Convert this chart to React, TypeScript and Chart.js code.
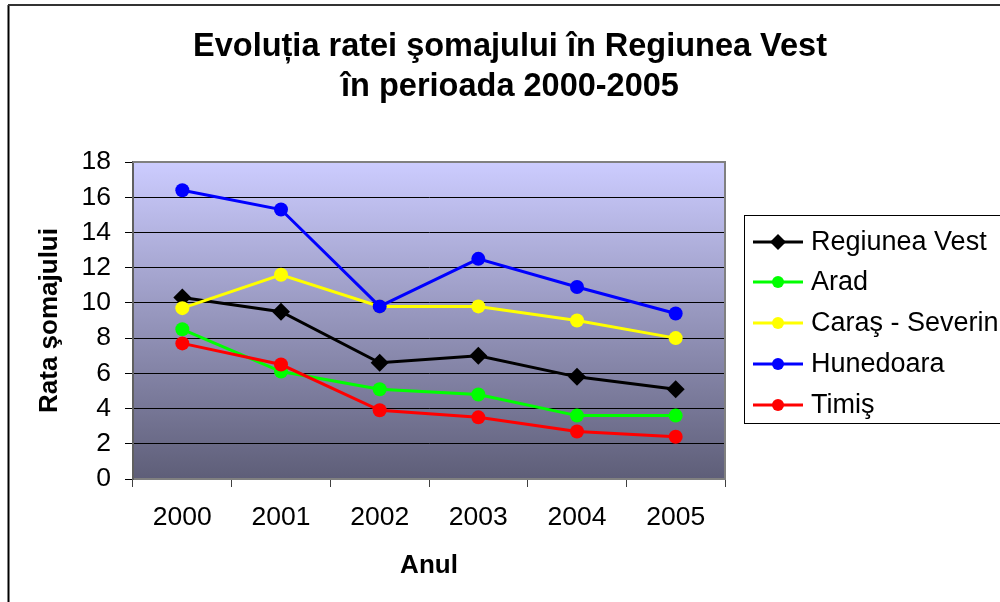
import React, { useEffect, useRef } from "react";
import { Chart, registerables } from "chart.js";

Chart.register(...registerables);

const years = ["2000", "2001", "2002", "2003", "2004", "2005"];
const regiuneaVest = [10.3, 9.5, 6.6, 7.0, 5.8, 5.1];
const arad = [8.5, 6.1, 5.1, 4.8, 3.6, 3.6];
const carasSeverin = [9.7, 11.6, 9.8, 9.8, 9.0, 8.0];
const hunedoara = [16.4, 15.3, 9.8, 12.5, 10.9, 9.4];
const timis = [7.7, 6.5, 3.9, 3.5, 2.7, 2.4];

const seriesNames = ["Regiunea Vest", "Arad", "Caraş - Severin", "Hunedoara", "Timiş"];
const seriesColors = ["#000000", "#00FF00", "#FFFF00", "#0000FF", "#FF0000"];
const seriesData = [regiuneaVest, arad, carasSeverin, hunedoara, timis];
const seriesMarkers = ["rectRot", "circle", "circle", "circle", "circle"];

const titleLines = ["Evoluția ratei şomajului în Regiunea Vest", "în perioada 2000-2005"];
const yTitle = "Rata şomajului";
const xTitle = "Anul";

const FONT = "'Liberation Sans', Arial, Helvetica, sans-serif";

const decorPlugin = {
  id: "decor",
  beforeDraw(chart: any) {
    const { ctx, chartArea } = chart;
    ctx.save();
    ctx.fillStyle = "#ffffff";
    ctx.fillRect(0, 0, chart.width, chart.height);
    // outer frame
    ctx.strokeStyle = "#000000";
    ctx.lineWidth = 2;
    ctx.beginPath();
    ctx.moveTo(8.5, chart.height + 2);
    ctx.lineTo(8.5, 5);
    ctx.stroke();
    ctx.strokeStyle = "#333333";
    ctx.beginPath();
    ctx.moveTo(8, 5);
    ctx.lineTo(chart.width + 2, 5);
    ctx.stroke();
    // plot gradient
    const g = ctx.createLinearGradient(0, chartArea.top, 0, chartArea.bottom);
    g.addColorStop(0, "#CCCCFF");
    g.addColorStop(1, "#5E5E78");
    ctx.fillStyle = g;
    ctx.fillRect(chartArea.left, chartArea.top, chartArea.right - chartArea.left, chartArea.bottom - chartArea.top);
    // title
    ctx.fillStyle = "#000000";
    ctx.font = `bold 32.5px ${FONT}`;
    ctx.textAlign = "center";
    ctx.textBaseline = "middle";
    ctx.fillText(titleLines[0], 510, 47);
    ctx.fillText(titleLines[1], 510, 87);
    ctx.restore();
  },
  beforeDatasetsDraw(chart: any) {
    const { ctx, chartArea } = chart;
    ctx.save();
    ctx.strokeStyle = "#808080";
    ctx.lineWidth = 2;
    ctx.beginPath();
    ctx.moveTo(chartArea.left, chartArea.top);
    ctx.lineTo(chartArea.right, chartArea.top);
    ctx.lineTo(chartArea.right, chartArea.bottom);
    ctx.stroke();
    ctx.restore();
  },
  afterDraw(chart: any) {
    const { ctx } = chart;
    ctx.save();
    // legend box
    const left = 744.5;
    const top = 215.5;
    const bottom = 423.5;
    ctx.fillStyle = "#ffffff";
    ctx.fillRect(left, top, chart.width - left + 5, bottom - top);
    ctx.strokeStyle = "#000000";
    ctx.lineWidth = 1;
    ctx.strokeRect(left, top, chart.width - left + 10, bottom - top);
    const ys = [242, 282, 323, 364, 405];
    chart.data.datasets.forEach((ds: any, i: number) => {
      const y = ys[i];
      ctx.strokeStyle = ds.borderColor;
      ctx.lineWidth = 3;
      ctx.beginPath();
      ctx.moveTo(753, y);
      ctx.lineTo(803, y);
      ctx.stroke();
      ctx.fillStyle = ds.borderColor;
      ctx.beginPath();
      if (ds.pointStyle === "rectRot") {
        const r = 8;
        ctx.moveTo(778, y - r);
        ctx.lineTo(778 + r, y);
        ctx.lineTo(778, y + r);
        ctx.lineTo(778 - r, y);
        ctx.closePath();
      } else {
        ctx.arc(778, y, 6, 0, Math.PI * 2);
      }
      ctx.fill();
      ctx.fillStyle = "#000000";
      ctx.font = `27px ${FONT}`;
      ctx.textAlign = "left";
      ctx.textBaseline = "middle";
      ctx.fillText(ds.label, 811, y + 1);
    });
    ctx.restore();
  },
};

export default function App() {
  const canvasRef = useRef<HTMLCanvasElement | null>(null);

  useEffect(() => {
    if (!canvasRef.current) return;
    const datasets = seriesNames.map((name, i) => ({
      label: name,
      data: seriesData[i],
      borderColor: seriesColors[i],
      backgroundColor: seriesColors[i],
      pointBackgroundColor: seriesColors[i],
      pointBorderColor: seriesColors[i],
      pointStyle: seriesMarkers[i],
      pointRadius: seriesMarkers[i] === "rectRot" ? 9 : 7,
      pointBorderWidth: 0,
      borderWidth: 3,
      tension: 0,
      fill: false,
      order: seriesNames.length - i,
    }));

    const chart = new Chart(canvasRef.current, {
      type: "line",
      data: { labels: years, datasets },
      plugins: [decorPlugin],
      options: {
        animation: false,
        responsive: false,
        devicePixelRatio: 1,
        layout: { padding: { left: 0, top: 162, right: 275, bottom: 0 } },
        plugins: {
          legend: { display: false },
          title: { display: false },
          tooltip: { enabled: false },
        },
        scales: {
          x: {
            type: "category",
            offset: true,
            grid: {
              offset: true,
              drawOnChartArea: false,
              drawTicks: true,
              tickLength: 8,
              tickColor: "#404040",
              lineWidth: 1,
            },
            border: { display: true, color: "#808080", width: 2 },
            ticks: {
              color: "#000000",
              padding: 15,
              maxRotation: 0,
              autoSkip: false,
              font: { family: FONT, size: 26.5 },
            },
            title: {
              display: true,
              text: xTitle,
              color: "#000000",
              font: { family: FONT, size: 26, weight: "bold" },
              padding: { top: 0, bottom: 21 },
            },
            afterFit(scale: any) {
              scale.height = 123;
            },
          },
          y: {
            min: 0,
            max: 18,
            ticks: {
              stepSize: 2,
              color: "#000000",
              padding: 14,
              font: { family: FONT, size: 26.5 },
            },
            grid: {
              color: (c: any) => (c.tick && c.tick.value === 18 ? "rgba(0,0,0,0)" : "#000000"),
              lineWidth: 1,
              drawTicks: true,
              tickLength: 8,
              tickColor: "#000000",
            },
            border: { display: true, color: "#606060", width: 2 },
            title: {
              display: true,
              text: yTitle,
              color: "#000000",
              font: { family: FONT, size: 26, weight: "bold" },
              padding: { top: 34, bottom: 0 },
            },
            afterFit(scale: any) {
              scale.width = 133;
            },
          },
        },
      } as any,
    });
    return () => chart.destroy();
  }, []);

  return (
    <div style={{ position: "fixed", left: 0, top: 0, width: 1000, height: 602, background: "#fff" }}>
      <canvas ref={canvasRef} width={1000} height={602} style={{ display: "block" }} />
    </div>
  );
}
